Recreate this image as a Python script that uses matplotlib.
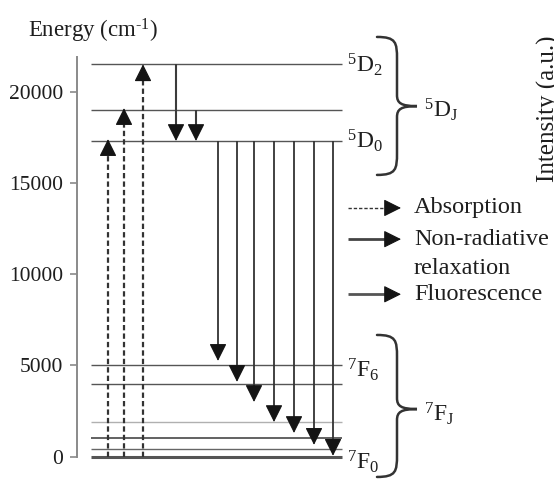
import matplotlib
matplotlib.use("Agg")
import matplotlib.pyplot as plt
from matplotlib.path import Path
from matplotlib.patches import PathPatch
from matplotlib.transforms import IdentityTransform

plt.rcParams["font.family"] = ["Liberation Serif", "DejaVu Serif"]
plt.rcParams["mathtext.fontset"] = "custom"
plt.rcParams["mathtext.rm"] = "Liberation Serif"
plt.rcParams["mathtext.it"] = "Liberation Serif:italic"
plt.rcParams["mathtext.bf"] = "Liberation Serif:bold"

# ---- energy levels (cm^-1) ----
d_levels = [21500, 19000, 17300]            # 5D2, 5D1, 5D0
f_levels = [5000, 4000, 1900, 1000, 420, 0]  # 7F6 ... 7F0
f_level_colors = ["#555555", "#555555", "#b0b0b0", "#555555", "#666666", "#555555"]
f_level_widths = [1.0, 1.0, 1.0, 1.3, 1.0, 2.2]

# absorption: ground state up to the 5D levels
abs_x = [108, 124, 143]
abs_end = [17400, 19100, 21500]

# non-radiative relaxation: 5D2 / 5D1 down to 5D0
nr_x = [176, 196]
nr_start = [21500, 19000]
nr_end = [17300, 17300]

# fluorescence: 5D0 down to the 7F manifold
fl_x = [218, 237, 254, 274, 294, 314, 333]
fl_start = 17300
fl_end = [5250, 4100, 3000, 1900, 1300, 650, 50]

yticks = [0, 5000, 10000, 15000, 20000]

TXT = "#1e1e1e"
DASH = (0, (2.4, 1.4))

fig = plt.figure(figsize=(5.54, 4.8), dpi=100)
ax = fig.add_axes([0, 0, 1, 1])
ax.set_xlim(0, 554)
ax.set_ylim(-1277, 25025)
ax.patch.set_alpha(0)

# left energy axis
for s in ["top", "right", "bottom"]:
    ax.spines[s].set_visible(False)
ax.spines["left"].set_position(("data", 77))
ax.spines["left"].set_bounds(0, 21900)
ax.spines["left"].set_color("#8a8a8a")
ax.spines["left"].set_linewidth(1.4)
ax.set_xticks([])
ax.set_yticks(yticks)
ax.set_yticklabels([str(t) for t in yticks])
ax.tick_params(axis="y", length=5, width=1.2, color="#8a8a8a", pad=5,
               labelsize=15.5, labelcolor=TXT)

ax.text(28, 23350, "Energy (cm$^{\\text{-1}}$)", fontsize=16.5, color=TXT,
        ha="left", va="center")

# level lines
x0, x1 = 91, 342
for e in d_levels:
    ax.plot([x0, x1], [e, e], color="#555555", lw=1.0, solid_capstyle="butt")
for e, c, w in zip(f_levels, f_level_colors, f_level_widths):
    ax.plot([x0, x1], [e, e], color=c, lw=w, solid_capstyle="butt")

HEAD_PX = 15.0


def arrow(xa, ya, xb, yb, color="#222222", lw=1.3, ls="-"):
    """Arrow with a solid filled head; the shaft may be dashed."""
    pa = ax.transData.transform((xa, ya))
    pb = ax.transData.transform((xb, yb))
    d = pb - pa
    n = d / (d ** 2).sum() ** 0.5
    base = ax.transData.inverted().transform(pb - n * HEAD_PX)
    ax.plot([xa, base[0]], [ya, base[1]], color=color, lw=lw, linestyle=ls,
            solid_capstyle="butt", dash_capstyle="butt")
    ax.annotate("", xy=(xb, yb), xytext=(base[0], base[1]),
                arrowprops=dict(arrowstyle="-|>,head_length=0.4,head_width=0.2",
                                mutation_scale=27, color="#141414", lw=0.8,
                                shrinkA=0, shrinkB=0))


for x, e in zip(abs_x, abs_end):
    arrow(x, 0, x, e, color="#333333", lw=1.6, ls=DASH)
for x, s, e in zip(nr_x, nr_start, nr_end):
    arrow(x, s, x, e, color="#3c3c3c", lw=1.5)
for x, e in zip(fl_x, fl_end):
    arrow(x, fl_start, x, e, color="#333333", lw=1.3)

# state labels
def state(x, e, sup, let, sub):
    ax.text(x, e, "$^{%s}\\mathrm{%s}_{\\mathrm{%s}}$" % (sup, let, sub),
            fontsize=17, color=TXT, ha="left", va="center")

state(347, d_levels[0], "5", "D", "2")
state(347, d_levels[2], "5", "D", "0")
state(347, f_levels[0] - 250, "7", "F", "6")
state(347, f_levels[-1] - 250, "7", "F", "0")
state(424, 19000, "5", "D", "J")
state(424, 2350, "7", "F", "J")


def brace(xl, etop, ebot, etip):
    """Right-pointing curly brace drawn in pixel space."""
    (pl, pt) = ax.transData.transform((xl, etop))
    (_, pb) = ax.transData.transform((xl, ebot))
    (_, pm) = ax.transData.transform((xl, etip))
    w, r, tip = 20, 22, 20
    xv = pl + w
    verts = [
        (pl, pt),
        (pl + 0.95 * w, pt), (xv, pt - 0.25 * r), (xv, pt - r),
        (xv, pm + 11),
        (xv, pm + 3), (xv + 4, pm), (xv + tip, pm),
        (xv + 4, pm), (xv, pm - 3), (xv, pm - 11),
        (xv, pb + r),
        (xv, pb + 0.25 * r), (pl + 0.95 * w, pb), (pl, pb),
    ]
    codes = [Path.MOVETO,
             Path.CURVE4, Path.CURVE4, Path.CURVE4,
             Path.LINETO,
             Path.CURVE4, Path.CURVE4, Path.CURVE4,
             Path.CURVE4, Path.CURVE4, Path.CURVE4,
             Path.LINETO,
             Path.CURVE4, Path.CURVE4, Path.CURVE4]
    ax.add_patch(PathPatch(Path(verts, codes), fill=False, lw=1.8,
                           edgecolor="#333333", transform=IdentityTransform(),
                           capstyle="round"))

brace(377, 23000, 15440, 19210)
brace(377, 6670, -1110, 2610)

# legend
leg_y = [13630, 11920, 8900]
leg_styles = [DASH, "-", "-"]
leg_lw = [1.0, 2.0, 2.0]
leg_colors = ["#333333", "#444444", "#555555"]
for y, ls, lw, c in zip(leg_y, leg_styles, leg_lw, leg_colors):
    arrow(348, y, 401, y, color=c, lw=lw, ls=ls)
LEG_FS = 17.5
ax.text(414, leg_y[0], "Absorption", fontsize=LEG_FS, color=TXT, ha="left", va="center")
ax.text(414, leg_y[1], "Non-radiative", fontsize=LEG_FS, color=TXT, ha="left", va="center")
ax.text(414, leg_y[1] - 1600, "relaxation", fontsize=LEG_FS, color=TXT, ha="left", va="center")
ax.text(414, leg_y[2], "Fluorescence", fontsize=LEG_FS, color=TXT, ha="left", va="center")

# spectrum axis title running off the right edge
ax.text(555, 15050, "Intensity (a.u.)", fontsize=18, color=TXT,
        rotation=90, rotation_mode="anchor", ha="left", va="baseline")

fig.savefig("out.png", dpi=100, facecolor="white")
